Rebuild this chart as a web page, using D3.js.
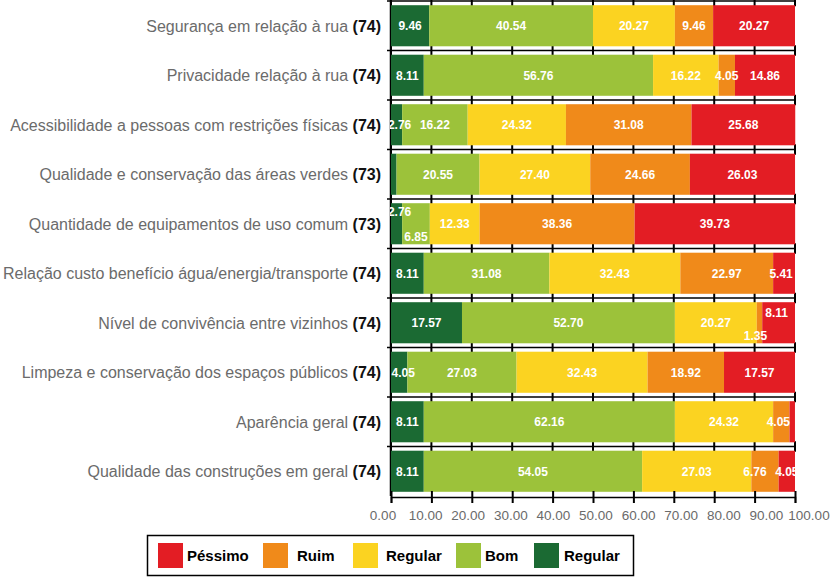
<!DOCTYPE html>
<html>
<head>
<meta charset="utf-8">
<script src="https://cdn.jsdelivr.net/npm/d3@7"></script>
<style>
  html, body { margin: 0; padding: 0; background: #fff; }
  svg { display: block; }
</style>
</head>
<body>
<svg id="chart" width="831" height="577"></svg>
<script>
// ---- data ----
const categories = [
  "Segurança em relação à rua",
  "Privacidade relação à rua",
  "Acessibilidade a pessoas com restrições físicas",
  "Qualidade e conservação das áreas verdes",
  "Quantidade de equipamentos de uso comum",
  "Relação custo benefício água/energia/transporte",
  "Nível de convivência entre vizinhos",
  "Limpeza e conservação dos espaços públicos",
  "Aparência geral",
  "Qualidade das construções em geral"
];
const counts = [74, 74, 74, 73, 73, 74, 74, 74, 74, 74];
const seriesNames = ["Regular", "Bom", "Regular", "Ruim", "Péssimo"]; // left-to-right stacking order
const otimo   = [9.46, 8.11, 2.76, 1.37, 2.76, 8.11, 17.57, 4.05, 8.11, 8.11];
const bom     = [40.54, 56.76, 16.22, 20.55, 6.85, 31.08, 52.70, 27.03, 62.16, 54.05];
const regular = [20.27, 16.22, 24.32, 27.40, 12.33, 32.43, 20.27, 32.43, 24.32, 27.03];
const ruim    = [9.46, 4.05, 31.08, 24.66, 38.36, 22.97, 1.35, 18.92, 4.05, 6.76];
const pessimo = [20.27, 14.86, 25.68, 26.03, 39.73, 5.41, 8.11, 17.57, 1.35, 4.05];
const xTicks = [0, 10, 20, 30, 40, 50, 60, 70, 80, 90, 100];
const legendOrder = [4, 3, 2, 1, 0]; // Péssimo, Ruim, Regular, Bom, Regular

// ---- styling / layout (kept separate from data) ----
const colors = ["#1b6a33", "#9cc23a", "#fbd321", "#f08a1a", "#e31d24"];
const hiddenLabels = [[3, 0], [8, 4]];            // [row, series] with no value label
const labelShiftY = { "4-0": -12, "4-1": 13, "6-3": 13, "6-4": -10 };
const labelShiftX = { "2-0": 3, "4-0": 3, "7-0": 4, "9-3": -10, "6-3": -4, "6-4": -2, "5-4": -3, "8-3": -3 };

const svg = d3.select("#chart");
const pLeft = 391, pRight = 795, pTop = 1, pBottom = 496;

const x = d3.scaleLinear().domain([0, 100]).range([pLeft, pRight]);
// tick labels in the reference are spread slightly wider than the tick marks
const xLab = d3.scaleLinear().domain([0, 100]).range([383, 809]);
const y = d3.scaleBand().domain(d3.range(categories.length))
  .range([pTop, pBottom]).paddingInner(0.17).paddingOuter(0.085);

const seriesData = [otimo, bom, regular, ruim, pessimo];
const rows = categories.map((c, i) => {
  const o = { i };
  seriesData.forEach((s, k) => o["s" + k] = s[i]);
  return o;
});
const stack = d3.stack().keys(seriesData.map((_, k) => "s" + k));
const stacked = stack(rows);

svg.append("defs").append("clipPath").attr("id", "plotClip")
  .append("rect").attr("x", pLeft - 1).attr("y", 0).attr("width", pRight - pLeft + 2).attr("height", pBottom);

// gap lines with ticks between rows
const step = y.step();
const gapH = step - y.bandwidth();
const gapYs = d3.range(categories.length + 1).map(i =>
  i === 0 ? y(0) - gapH / 2 : y(i - 1) + y.bandwidth() + gapH / 2);

const grid = svg.append("g");
gapYs.forEach((gy, gi) => {
  if (gi === categories.length) return;
  grid.append("line").attr("x1", pLeft - 4).attr("x2", pRight)
    .attr("y1", gy).attr("y2", gy).attr("stroke", "#000").attr("stroke-width", 1.5);
  grid.selectAll(null).data(xTicks).enter().append("line")
    .attr("x1", d => x(d)).attr("x2", d => x(d))
    .attr("y1", gy - gapH / 2 - 1).attr("y2", gy + gapH / 2 + 1)
    .attr("stroke", "#000").attr("stroke-width", 2);
});

// left axis line
svg.append("line").attr("x1", pLeft - 0.5).attr("x2", pLeft - 0.5)
  .attr("y1", 0).attr("y2", pBottom).attr("stroke", "#000").attr("stroke-width", 1.5);

// bars
const barG = svg.append("g");
stacked.forEach((layer, k) => {
  barG.selectAll(null).data(layer).enter().append("rect")
    .attr("x", d => x(d[0]))
    .attr("y", (d, i) => y(i))
    .attr("width", d => Math.max(0, x(d[1]) - x(d[0])))
    .attr("height", y.bandwidth())
    .attr("fill", colors[k]);
});

// value labels
const fmt = d3.format(".2f");
const isHidden = (i, k) => hiddenLabels.some(h => h[0] === i && h[1] === k);
const labG = svg.append("g").attr("clip-path", "url(#plotClip)");
stacked.forEach((layer, k) => {
  labG.selectAll(null).data(layer.filter((d, i) => !isHidden(i, k)).map(d => ({ d, i: d.data.i }))).enter()
    .append("text")
    .attr("x", o => x((o.d[0] + o.d[1]) / 2) + (labelShiftX[o.i + "-" + k] || 0))
    .attr("y", o => y(o.i) + y.bandwidth() / 2 + (labelShiftY[o.i + "-" + k] || 0))
    .attr("dy", "0.36em")
    .attr("text-anchor", "middle")
    .attr("fill", "#fff")
    .attr("font-family", "Liberation Sans, Arial, sans-serif")
    .attr("font-weight", "bold")
    .attr("font-size", "12px")
    .text(o => fmt(seriesData[k][o.i]));
});

// bottom axis (line + ticks from x scale, labels from xLab)
const axisY = pBottom + 1;
const xAxis = d3.axisBottom(x).tickValues(xTicks).tickFormat("").tickSizeOuter(0).tickSize(6);
const ax = svg.append("g").attr("transform", `translate(0,${axisY})`).call(xAxis);
ax.select(".domain").attr("stroke", "#000").attr("stroke-width", 1.5);
ax.selectAll(".tick line").attr("stroke", "#000").attr("stroke-width", 2).attr("y1", -6);
svg.append("g").selectAll("text").data(xTicks).enter().append("text")
  .attr("x", d => xLab(d)).attr("y", axisY + 18)
  .attr("dy", "0.36em")
  .attr("text-anchor", "middle")
  .attr("fill", "#6a6a6a").attr("font-size", "13.5px")
  .attr("font-family", "Liberation Sans, Arial, sans-serif")
  .text(d => d3.format(".2f")(d));

// category labels
const catG = svg.append("g");
categories.forEach((c, i) => {
  const t = catG.append("text")
    .attr("x", 381).attr("y", y(i) + y.bandwidth() / 2).attr("dy", "0.36em")
    .attr("text-anchor", "end")
    .attr("font-family", "Liberation Sans, Arial, sans-serif")
    .attr("font-size", "16px");
  t.append("tspan").attr("fill", "#6b6b6b").text(c + " ");
  t.append("tspan").attr("fill", "#111").attr("font-weight", "bold").text("(" + counts[i] + ")");
});

// legend
const lg = svg.append("g");
lg.append("rect").attr("x", 147.5).attr("y", 535.5).attr("width", 486).attr("height", 40)
  .attr("fill", "#fff").attr("stroke", "#000").attr("stroke-width", 1.5);
const legendX = [158, 263, 353, 456, 534];
const legendTextX = [187, 297, 386, 485, 564];
legendOrder.forEach((k, j) => {
  lg.append("rect").attr("x", legendX[j]).attr("y", 543).attr("width", 25).attr("height", 25)
    .attr("fill", colors[k]);
  lg.append("text").attr("x", legendTextX[j]).attr("y", 556).attr("dy", "0.36em")
    .attr("font-family", "Liberation Sans, Arial, sans-serif").attr("font-weight", "bold")
    .attr("font-size", "15px").attr("fill", "#000").text(seriesNames[k]);
});
</script>
</body>
</html>
